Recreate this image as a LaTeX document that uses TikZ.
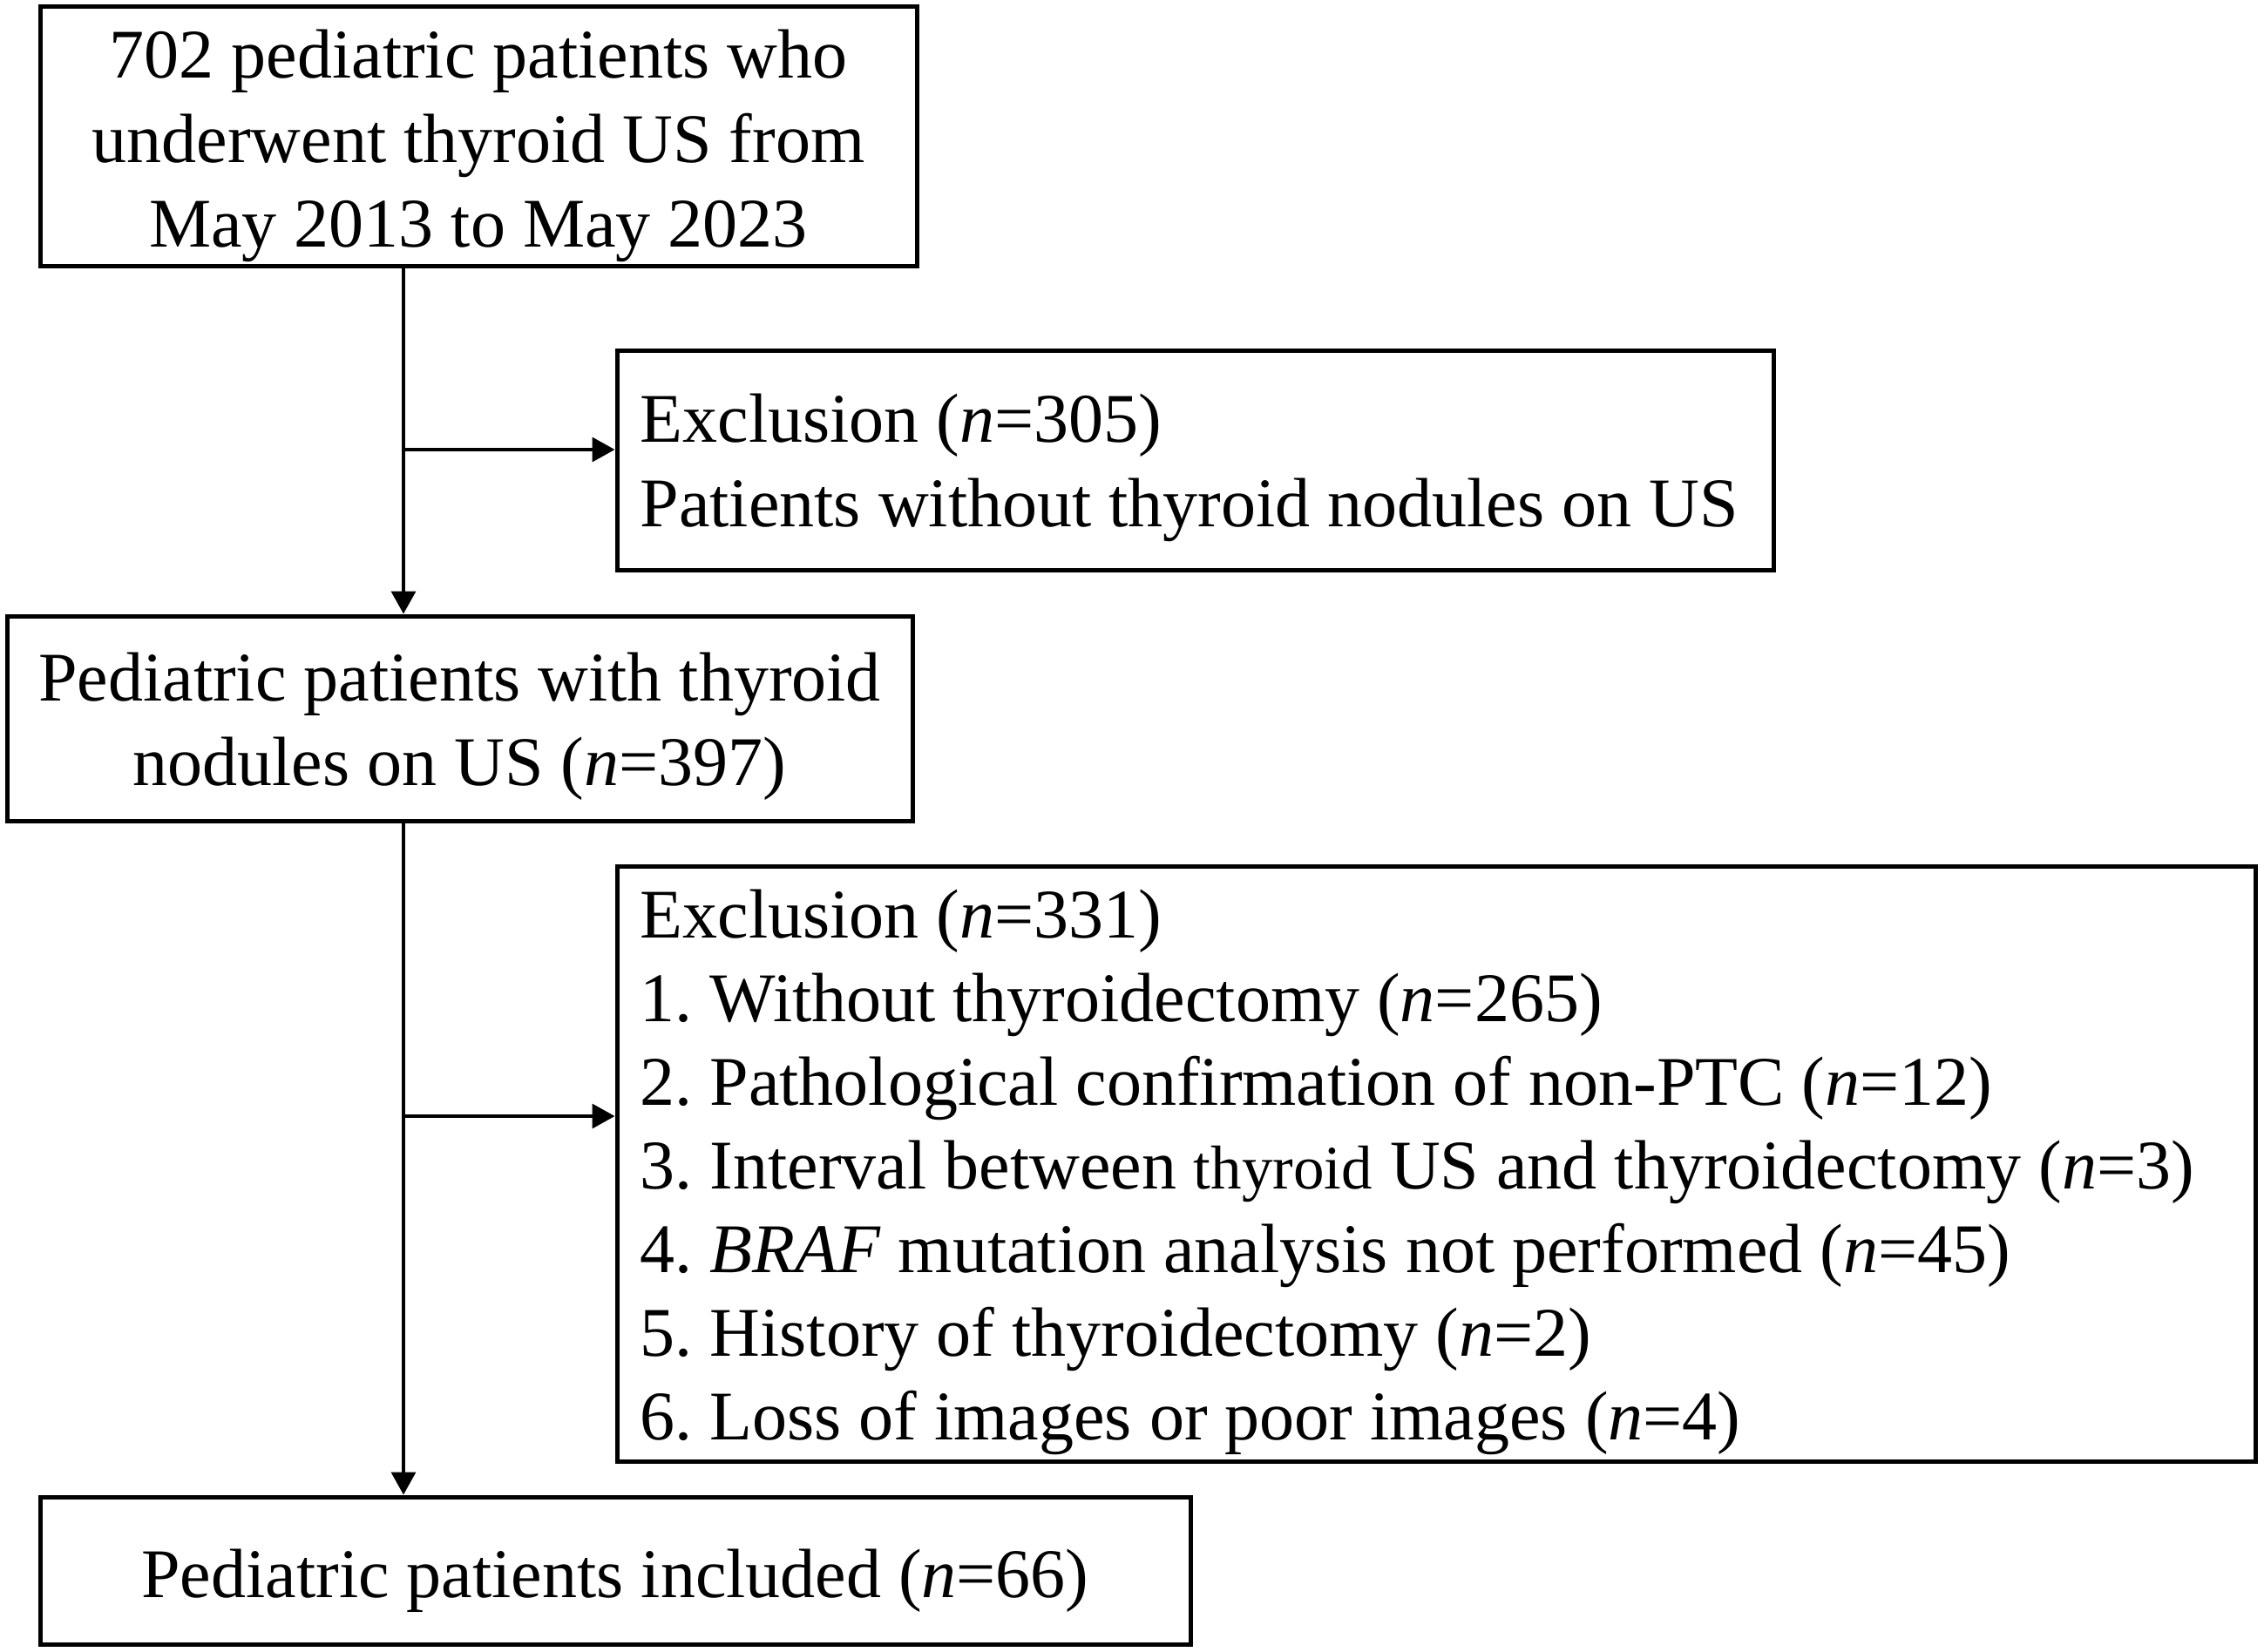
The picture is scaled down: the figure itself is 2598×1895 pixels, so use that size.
\documentclass[tikz,border=0pt]{standalone}
\usepackage{fontspec}
\setmainfont{Liberation Serif}
\usetikzlibrary{arrows.meta}
\begin{document}
\frenchspacing
\begin{tikzpicture}[x=1pt,y=-1pt,
  frame/.style={draw, line width=5pt, inner sep=0pt},
  ctext/.style={align=center, inner sep=0pt, font=\fontsize{80}{97}\selectfont},
  ltext/.style={anchor=west, align=left, inner sep=0pt, font=\fontsize{80}{97}\selectfont},
  arr/.style={line width=3.5pt, -{Triangle[length=26pt,width=28pt]}}]
\useasboundingbox (0,0) rectangle (2598,1895);
\node[frame, minimum width=1006pt, minimum height=298pt] (box1) at (549,156) {};
\node[ctext] (box1t) at ([yshift=-11pt]box1.center)
  {702 pediatric patients who\\underwent thyroid US from\\May 2013 to May 2023};
\node[frame, minimum width=1327pt, minimum height=252pt] (excl1) at (1371.5,528) {};
\node[ltext] (excl1t) at ([xshift=29pt,yshift=-9pt]excl1.west)
  {Exclusion (\textit{n}=305)\\Patients without thyroid nodules on US};
\node[frame, minimum width=1039pt, minimum height=235pt] (box2) at (527.5,824.5) {};
\node[ctext] (box2t) at ([yshift=-9pt]box2.center)
  {Pediatric patients with thyroid\\nodules on US (\textit{n}=397)};
\node[frame, minimum width=1880pt, minimum height=683pt] (excl2) at (1648,1335.5) {};
\node[ltext, font=\fontsize{80}{96}\selectfont] (excl2t) at ([xshift=29pt,yshift=-10pt]excl2.west)
  {Exclusion (\textit{n}=331)\\
   1. Without thyroidectomy (\textit{n}=265)\\
   2. Pathological confirmation of non-PTC (\textit{n}=12)\\
   3. Interval between {\fontsize{71}{96}\selectfont thyroid} US and thyroidectomy (\textit{n}=3)\\
   4. \textit{BRAF} mutation analysis not performed (\textit{n}=45)\\
   5. History of thyroidectomy (\textit{n}=2)\\
   6. Loss of images or poor images (\textit{n}=4)};
\node[frame, minimum width=1320pt, minimum height=169pt] (box3) at (706,1802.5) {};
\node[ctext] (box3t) at ([yshift=-12pt]box3.center)
  {Pediatric patients included (\textit{n}=66)};
\coordinate (t) at (463,0);
\coordinate (b1) at (463,516);
\coordinate (b2) at (463,1281);
\draw[arr] (box1.south -| t) -- (box2.north -| t);
\draw[arr] (box2.south -| t) -- (box3.north -| t);
\draw[arr] (b1) -- (b1 -| excl1.west);
\draw[arr] (b2) -- (b2 -| excl2.west);
\end{tikzpicture}
\end{document}
